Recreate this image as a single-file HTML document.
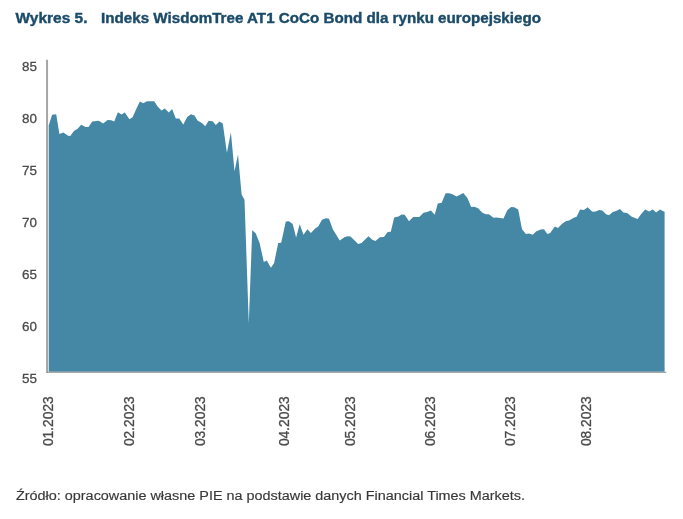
<!DOCTYPE html>
<html><head><meta charset="utf-8">
<style>
html,body{margin:0;padding:0;background:#fff;width:683px;height:519px;overflow:hidden;}
svg{position:absolute;left:0;top:0;will-change:transform;}
text{font-family:"Liberation Sans",sans-serif;}
</style></head><body>
<svg width="683" height="519" viewBox="0 0 683 519">
<text x="15.5" y="23.1" font-size="14.8" font-weight="bold" fill="#1b4b69" stroke="#1b4b69" stroke-width="0.4" textLength="72" lengthAdjust="spacingAndGlyphs">Wykres 5.</text>
<text x="101" y="23.1" font-size="14.8" font-weight="bold" fill="#1b4b69" stroke="#1b4b69" stroke-width="0.4" textLength="440" lengthAdjust="spacingAndGlyphs">Indeks WisdomTree AT1 CoCo Bond dla rynku europejskiego</text>
<path d="M48.7,371.7 L48.7,125.2 L52.2,114.8 L56.2,114.2 L59.4,134 L63.4,132.5 L68,135.7 L70.3,136.1 L73.9,131 L77.6,128.8 L81.2,124.7 L85.6,126.9 L88.6,126.9 L92.2,121.5 L98.8,120.7 L103.2,123.4 L107.6,120 L111.3,120.3 L114.2,121.5 L117.9,112.2 L121.5,114.6 L124.8,112.4 L129.4,119.3 L132.6,117.3 L136.6,108.2 L139.9,101.4 L143.3,103.2 L147,101.3 L154.2,101.2 L157.8,106.7 L161.5,110.4 L164.8,108.5 L168.8,112.6 L172.1,108.9 L175.8,118.4 L179.2,118.6 L183.3,124.4 L187.2,117.1 L190.9,114.2 L194.5,115.6 L197.5,120.5 L201.9,122.9 L205.2,126.3 L208.7,120.7 L212.6,121.2 L215.8,125.1 L219.5,121.4 L222.8,123.6 L226.9,152.7 L230.9,132.2 L234.5,171.3 L238,154.4 L241.6,194.6 L244.5,199.8 L248.8,323.5 L252.2,230.3 L255.7,233.3 L259.6,243 L263.8,262 L266.8,260.4 L270.9,267.8 L274.1,263 L278.2,243.1 L281.2,242.8 L285.8,221.6 L288.9,221.3 L292.7,223.9 L296.1,237.4 L299.7,224.3 L303.5,234.7 L307.4,229.3 L310.9,233.1 L315.1,228.5 L318.2,226.5 L322,219.7 L325.9,218.2 L329,218.8 L332.8,229.3 L339.7,240.4 L344.4,237.3 L347.4,236.2 L350.5,236.5 L358.2,243.9 L361.5,243 L368.5,236.2 L372.3,239.8 L375.4,240.9 L380,237.3 L383.9,237 L387.7,232.1 L390.8,231.8 L394.2,217.4 L398.5,216.5 L401.6,214.4 L404.7,214.8 L409,221.3 L413.2,217 L419.3,217 L423.5,212.8 L427,212 L430.9,210.5 L434.7,214.7 L437.8,203.4 L441.7,202.8 L445.6,193.2 L449,193.2 L452.4,194.2 L456.6,196.5 L463.3,193.1 L467.4,197.9 L471.2,207 L474.3,206.7 L478.1,208.2 L482.4,212.8 L485.8,214.2 L488.9,214.2 L493.5,217.8 L496.6,217.4 L503.5,218.5 L507.4,210 L511.2,207 L514.3,207.3 L518.2,209.6 L522,229.3 L525.9,233.9 L529,233.6 L532.8,234.7 L536,231.6 L540.7,229.4 L544,229.3 L547.3,234 L550.2,233.1 L554.8,226.6 L558,228 L562.4,223.4 L566.2,220.9 L569,220.4 L573.8,217.7 L576.6,216.7 L580.1,209.5 L583.9,210.1 L587.7,207.2 L592.3,211.8 L595.7,211.4 L599.1,209.9 L602.3,210.5 L606.1,214.3 L609,215.2 L612.8,212 L616.6,210.8 L620,209.1 L623.3,212.4 L627.1,212.9 L631.8,216.7 L637.6,219 L641,214.3 L645.2,209.5 L649,211.4 L652.8,209.5 L656.2,212.4 L660,209.5 L663.8,211.4 L664.6,211.8 L664.6,371.7 Z" fill="#4488a6"/>
<line x1="47.05" y1="59.7" x2="47.05" y2="372.8" stroke="#a6a6a6" stroke-width="2"/>
<line x1="46.4" y1="372.3" x2="666.3" y2="372.3" stroke="#8c8c8c" stroke-width="1.1"/>
<g font-size="13.4" fill="#4a4a4a" stroke="#4a4a4a" stroke-width="0.3" text-anchor="end">
<text x="37" y="70.5">85</text>
<text x="37" y="122.8">80</text>
<text x="37" y="175.1">75</text>
<text x="37" y="227.3">70</text>
<text x="37" y="279.0">65</text>
<text x="37" y="330.8">60</text>
<text x="37" y="382.7">55</text>
</g>
<g font-size="13.8" fill="#4a4a4a" stroke="#4a4a4a" stroke-width="0.3">
<text transform="translate(53.0,446.1) rotate(-90)">01.2023</text>
<text transform="translate(133.7,446.1) rotate(-90)">02.2023</text>
<text transform="translate(205.2,446.1) rotate(-90)">03.2023</text>
<text transform="translate(289.0,446.1) rotate(-90)">04.2023</text>
<text transform="translate(355.2,446.1) rotate(-90)">05.2023</text>
<text transform="translate(435.2,446.1) rotate(-90)">06.2023</text>
<text transform="translate(515.2,446.1) rotate(-90)">07.2023</text>
<text transform="translate(591.2,446.1) rotate(-90)">08.2023</text>
</g>
<text x="16" y="499.6" font-size="12.5" fill="#383838" stroke="#383838" stroke-width="0.15" textLength="509" lengthAdjust="spacingAndGlyphs">Źródło: opracowanie własne PIE na podstawie danych Financial Times Markets.</text>
</svg>
</body></html>
